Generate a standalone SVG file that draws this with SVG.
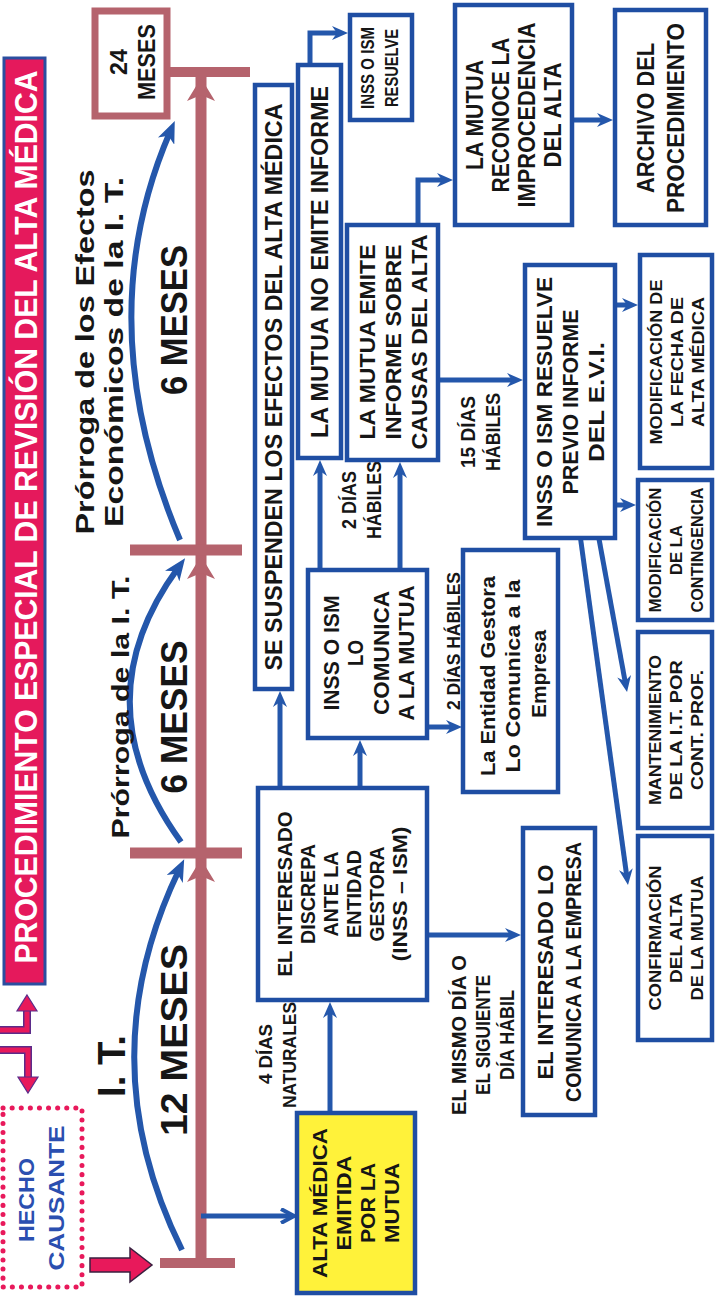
<svg xmlns="http://www.w3.org/2000/svg" width="720" height="1303" viewBox="0 0 720 1303">
<style>
.t{font-family:"Liberation Sans Narrow","Liberation Sans",Arial,sans-serif;font-weight:bold;fill:#161616;text-anchor:middle}
.bx{fill:#fff;stroke:#1f4ea3;stroke-width:4.5}
.cn{fill:none;stroke:#2457ab;stroke-width:5}
.rose{fill:none;stroke:#b5636d}
.arc{fill:none;stroke:#2457ab;stroke-width:6}
</style>
<defs>
<marker id="ab" viewBox="0 0 16 14" refX="8" refY="7" markerWidth="16" markerHeight="14" markerUnits="userSpaceOnUse" orient="auto"><path d="M0,0 L16,7 L0,14 L5,7 z" fill="#2457ab"/></marker>
<marker id="ao" viewBox="0 0 16 16" refX="13" refY="8" markerWidth="16" markerHeight="16" markerUnits="userSpaceOnUse" orient="auto"><path d="M1,1 L14,8 L1,15" fill="none" stroke="#2457ab" stroke-width="4"/></marker>
<marker id="aw" viewBox="0 0 22 18" refX="10" refY="9" markerWidth="22" markerHeight="18" markerUnits="userSpaceOnUse" orient="auto"><path d="M0,0 L22,9 L0,18 L6,9 z" fill="#2457ab"/></marker>
</defs>
<rect width="720" height="1303" fill="#fff"/>

<g id="title">
<rect x="4" y="58" width="41" height="926" fill="#e5195c" stroke="#2b4ea0" stroke-width="3"/>
<text class="t" style="fill:#fff" font-size="32" transform="translate(37,517) rotate(-90)" textLength="893" lengthAdjust="spacingAndGlyphs">PROCEDIMIENTO ESPECIAL DE REVISIÓN DEL ALTA MÉDICA</text>
</g>

<g id="pink-arrows">
<path d="M0,1030 H27 V1010" fill="none" stroke="#5b2b8a" stroke-width="8"/>
<path d="M0,1030 H27 V1010" fill="none" stroke="#e8195b" stroke-width="5"/>
<polygon points="27,995 37,1011 17,1011" fill="#e8195b" stroke="#5b2b8a" stroke-width="1.2"/>
<path d="M0,1050 H28 V1078" fill="none" stroke="#5b2b8a" stroke-width="8"/>
<path d="M0,1050 H28 V1078" fill="none" stroke="#e8195b" stroke-width="5"/>
<polygon points="28,1093 38,1077 18,1077" fill="#e8195b" stroke="#5b2b8a" stroke-width="1.2"/>
<polygon points="90,1258 130,1258 130,1248 152,1265 130,1282 130,1272 90,1272" fill="#e8195b" stroke="#3a2040" stroke-width="1.5"/>
</g>

<g id="n-hecho">
<rect x="3" y="1108" width="79" height="179" fill="none" stroke="#e8195b" stroke-width="5" stroke-dasharray="0.1 9" stroke-linecap="round"/>
<text class="t" style="fill:#2b4fb0" font-size="22" transform="translate(34,1200) rotate(-90)" textLength="84" lengthAdjust="spacingAndGlyphs">HECHO</text>
<text class="t" style="fill:#2b4fb0" font-size="22" transform="translate(64,1198) rotate(-90)" textLength="145" lengthAdjust="spacingAndGlyphs">CAUSANTE</text>
</g>

<g id="timeline">
<line x1="201" y1="77" x2="201" y2="1263" class="rose" stroke-width="11"/>
<line x1="167" y1="72" x2="250" y2="72" class="rose" stroke-width="10"/>
<line x1="130" y1="550" x2="242" y2="550" class="rose" stroke-width="11"/>
<line x1="130" y1="853" x2="242" y2="853" class="rose" stroke-width="11"/>
<line x1="160" y1="1263" x2="235" y2="1263" class="rose" stroke-width="10"/>
<polygon points="201,78 215,101 201,95 187,101" fill="#b5636d"/>
<polygon points="201,556 215,579 201,573 187,579" fill="#b5636d"/>
<polygon points="201,859 215,882 201,876 187,882" fill="#b5636d"/>
<path class="arc" d="M182,1250 Q88,1060 179,870" marker-end="url(#aw)"/>
<path class="arc" d="M181,842 Q80,702 178,568" marker-end="url(#aw)"/>
<path class="arc" d="M180,540 Q88,322 170,132" marker-end="url(#aw)"/>
<text class="t" font-size="38" transform="translate(125,1066) rotate(-90)" textLength="62" lengthAdjust="spacingAndGlyphs">I. T.</text>
<text class="t" font-size="37" transform="translate(187,1040) rotate(-90)" textLength="192" lengthAdjust="spacingAndGlyphs">12 MESES</text>
<text class="t" font-size="24" transform="translate(129,707) rotate(-90)" textLength="263" lengthAdjust="spacingAndGlyphs">Prórroga de la I. T.</text>
<text class="t" font-size="37" transform="translate(187,717) rotate(-90)" textLength="153" lengthAdjust="spacingAndGlyphs">6 MESES</text>
<text class="t" font-size="25" transform="translate(94,352) rotate(-90)" textLength="365" lengthAdjust="spacingAndGlyphs">Prórroga de los Efectos</text>
<text class="t" font-size="25" transform="translate(123,352) rotate(-90)" textLength="350" lengthAdjust="spacingAndGlyphs">Económicos de la I. T.</text>
<text class="t" font-size="37" transform="translate(187,320) rotate(-90)" textLength="150" lengthAdjust="spacingAndGlyphs">6 MESES</text>
</g>

<g id="n-24meses">
<rect x="95" y="11" width="72" height="105" fill="#fff" stroke="#b5636d" stroke-width="7"/>
<text class="t" font-size="23" transform="translate(127,62) rotate(-90)" textLength="26" lengthAdjust="spacingAndGlyphs">24</text>
<text class="t" font-size="23" transform="translate(155,62) rotate(-90)" textLength="76" lengthAdjust="spacingAndGlyphs">MESES</text>
</g>

<g id="connectors">
<path class="cn" d="M201,1216 H293" marker-end="url(#ao)"/>
<path class="cn" d="M330,1113 V1010" marker-end="url(#ab)"/>
<path class="cn" d="M280,788 V699" marker-end="url(#ab)"/>
<path class="cn" d="M360,788 V748" marker-end="url(#ab)"/>
<path class="cn" d="M320,570 V468" marker-end="url(#ab)"/>
<path class="cn" d="M400,570 V470" marker-end="url(#ab)"/>
<path class="cn" d="M425,727 H454" marker-end="url(#ab)"/>
<path class="cn" d="M310,65 V33 H340" marker-end="url(#ab)"/>
<path class="cn" d="M418,225 V180 H445" marker-end="url(#ab)"/>
<path class="cn" d="M572,120 H605" marker-end="url(#ab)"/>
<path class="cn" d="M438,380 H515" marker-end="url(#ab)"/>
<path class="cn" d="M598,305 H630" marker-end="url(#ab)"/>
<path class="cn" d="M598,505 H628" marker-end="url(#ab)"/>
<path class="cn" d="M597,528 L625.6,684.1" marker-end="url(#ab)"/>
<path class="cn" d="M578,520 L626.9,877.1" marker-end="url(#ab)"/>
<path class="cn" d="M427,935 H513" marker-end="url(#ab)"/>
<text class="t" font-size="19" transform="translate(272,1054) rotate(-90)" textLength="60" lengthAdjust="spacingAndGlyphs">4 DÍAS</text>
<text class="t" font-size="19" transform="translate(296,1055) rotate(-90)" textLength="106" lengthAdjust="spacingAndGlyphs">NATURALES</text>
<text class="t" font-size="20" transform="translate(356,500) rotate(-90)" textLength="58" lengthAdjust="spacingAndGlyphs">2 DÍAS</text>
<text class="t" font-size="20" transform="translate(381,500) rotate(-90)" textLength="78" lengthAdjust="spacingAndGlyphs">HÁBILES</text>
<text class="t" font-size="18" transform="translate(460,641) rotate(-90)" textLength="138" lengthAdjust="spacingAndGlyphs">2 DÍAS HÁBILES</text>
<text class="t" font-size="20" transform="translate(475,432) rotate(-90)" textLength="72" lengthAdjust="spacingAndGlyphs">15 DÍAS</text>
<text class="t" font-size="20" transform="translate(500,432) rotate(-90)" textLength="78" lengthAdjust="spacingAndGlyphs">HÁBILES</text>
<text class="t" font-size="20" transform="translate(466,1035) rotate(-90)" textLength="160" lengthAdjust="spacingAndGlyphs">EL MISMO DÍA O</text>
<text class="t" font-size="20" transform="translate(490,1035) rotate(-90)" textLength="120" lengthAdjust="spacingAndGlyphs">EL SIGUIENTE</text>
<text class="t" font-size="20" transform="translate(514,1035) rotate(-90)" textLength="90" lengthAdjust="spacingAndGlyphs">DÍA HÁBIL</text>
</g>

<g id="n-suspenden">
<rect class="bx" x="255" y="85" width="37" height="604"/>
<text class="t" font-size="24" transform="translate(282,387) rotate(-90)" textLength="567" lengthAdjust="spacingAndGlyphs">SE SUSPENDEN LOS EFECTOS DEL ALTA MÉDICA</text>
</g>

<g id="n-noemite">
<rect class="bx" x="298" y="65" width="43" height="393"/>
<text class="t" font-size="24" transform="translate(328,262) rotate(-90)" textLength="352" lengthAdjust="spacingAndGlyphs">LA MUTUA NO EMITE INFORME</text>
</g>

<g id="n-resuelve">
<rect class="bx" x="350" y="15" width="62" height="105"/>
<text class="t" font-size="18" transform="translate(374,68) rotate(-90)" textLength="82" lengthAdjust="spacingAndGlyphs">INSS O ISM</text>
<text class="t" font-size="18" transform="translate(398,68) rotate(-90)" textLength="78" lengthAdjust="spacingAndGlyphs">RESUELVE</text>
</g>

<g id="n-emite">
<rect class="bx" x="347" y="225" width="91" height="235"/>
<text class="t" font-size="22" transform="translate(375,342) rotate(-90)" textLength="195" lengthAdjust="spacingAndGlyphs">LA MUTUA EMITE</text>
<text class="t" font-size="22" transform="translate(401,342) rotate(-90)" textLength="195" lengthAdjust="spacingAndGlyphs">INFORME SOBRE</text>
<text class="t" font-size="22" transform="translate(427,342) rotate(-90)" textLength="215" lengthAdjust="spacingAndGlyphs">CAUSAS DEL ALTA</text>
</g>

<g id="n-reconoce">
<rect class="bx" x="455" y="5" width="117" height="220"/>
<text class="t" font-size="23" transform="translate(483,115) rotate(-90)" textLength="110" lengthAdjust="spacingAndGlyphs">LA MUTUA</text>
<text class="t" font-size="23" transform="translate(509,115) rotate(-90)" textLength="155" lengthAdjust="spacingAndGlyphs">RECONOCE LA</text>
<text class="t" font-size="23" transform="translate(535,115) rotate(-90)" textLength="185" lengthAdjust="spacingAndGlyphs">IMPROCEDENCIA</text>
<text class="t" font-size="23" transform="translate(561,115) rotate(-90)" textLength="105" lengthAdjust="spacingAndGlyphs">DEL ALTA</text>
</g>

<g id="n-archivo">
<rect class="bx" x="615" y="10" width="91" height="215"/>
<text class="t" font-size="24" transform="translate(654,118) rotate(-90)" textLength="150" lengthAdjust="spacingAndGlyphs">ARCHIVO DEL</text>
<text class="t" font-size="24" transform="translate(684,118) rotate(-90)" textLength="190" lengthAdjust="spacingAndGlyphs">PROCEDIMIENTO</text>
</g>

<g id="n-previo">
<rect class="bx" x="525" y="265" width="90" height="273"/>
<text class="t" font-size="22" transform="translate(552,402) rotate(-90)" textLength="250" lengthAdjust="spacingAndGlyphs">INSS O ISM RESUELVE</text>
<text class="t" font-size="22" transform="translate(578,402) rotate(-90)" textLength="185" lengthAdjust="spacingAndGlyphs">PREVIO INFORME</text>
<text class="t" font-size="22" transform="translate(604,402) rotate(-90)" textLength="120" lengthAdjust="spacingAndGlyphs">DEL E.V.I.</text>
</g>

<g id="n-modfecha">
<rect class="bx" x="640" y="255" width="72" height="213"/>
<text class="t" font-size="16" transform="translate(662,362) rotate(-90)" textLength="165" lengthAdjust="spacingAndGlyphs">MODIFICACIÓN DE</text>
<text class="t" font-size="16" transform="translate(683,362) rotate(-90)" textLength="130" lengthAdjust="spacingAndGlyphs">LA FECHA DE</text>
<text class="t" font-size="16" transform="translate(704,362) rotate(-90)" textLength="130" lengthAdjust="spacingAndGlyphs">ALTA MÉDICA</text>
</g>

<g id="n-modcont">
<rect class="bx" x="638" y="480" width="74" height="140"/>
<text class="t" font-size="16" transform="translate(661,550) rotate(-90)" textLength="125" lengthAdjust="spacingAndGlyphs">MODIFICACIÓN</text>
<text class="t" font-size="16" transform="translate(682,550) rotate(-90)" textLength="50" lengthAdjust="spacingAndGlyphs">DE LA</text>
<text class="t" font-size="16" transform="translate(703,550) rotate(-90)" textLength="125" lengthAdjust="spacingAndGlyphs">CONTINGENCIA</text>
</g>

<g id="n-mant">
<rect class="bx" x="638" y="632" width="74" height="196"/>
<text class="t" font-size="16" transform="translate(661,730) rotate(-90)" textLength="150" lengthAdjust="spacingAndGlyphs">MANTENIMIENTO</text>
<text class="t" font-size="16" transform="translate(682,730) rotate(-90)" textLength="140" lengthAdjust="spacingAndGlyphs">DE LA I.T. POR</text>
<text class="t" font-size="16" transform="translate(703,730) rotate(-90)" textLength="120" lengthAdjust="spacingAndGlyphs">CONT. PROF.</text>
</g>

<g id="n-confirm">
<rect class="bx" x="638" y="836" width="74" height="204"/>
<text class="t" font-size="16" transform="translate(661,938) rotate(-90)" textLength="145" lengthAdjust="spacingAndGlyphs">CONFIRMACIÓN</text>
<text class="t" font-size="16" transform="translate(682,938) rotate(-90)" textLength="90" lengthAdjust="spacingAndGlyphs">DEL ALTA</text>
<text class="t" font-size="16" transform="translate(703,938) rotate(-90)" textLength="125" lengthAdjust="spacingAndGlyphs">DE LA MUTUA</text>
</g>

<g id="n-comunica">
<rect class="bx" x="308" y="570" width="119" height="168"/>
<text class="t" font-size="22" transform="translate(339,653) rotate(-90)" textLength="115" lengthAdjust="spacingAndGlyphs">INSS O ISM</text>
<text class="t" font-size="22" transform="translate(363,653) rotate(-90)" textLength="26" lengthAdjust="spacingAndGlyphs">LO</text>
<text class="t" font-size="22" transform="translate(389,653) rotate(-90)" textLength="124" lengthAdjust="spacingAndGlyphs">COMUNICA</text>
<text class="t" font-size="22" transform="translate(414,653) rotate(-90)" textLength="135" lengthAdjust="spacingAndGlyphs">A LA MUTUA</text>
</g>

<g id="n-entidad">
<rect class="bx" x="463" y="550" width="95" height="242"/>
<text class="t" font-size="21" transform="translate(495,676) rotate(-90)" textLength="200" lengthAdjust="spacingAndGlyphs">La Entidad Gestora</text>
<text class="t" font-size="21" transform="translate(520,676) rotate(-90)" textLength="193" lengthAdjust="spacingAndGlyphs">Lo Comunica a la</text>
<text class="t" font-size="21" transform="translate(546,674) rotate(-90)" textLength="88" lengthAdjust="spacingAndGlyphs">Empresa</text>
</g>

<g id="n-intcomunica">
<rect class="bx" x="523" y="828" width="72" height="287"/>
<text class="t" font-size="22" transform="translate(553,972) rotate(-90)" textLength="215" lengthAdjust="spacingAndGlyphs">EL INTERESADO LO</text>
<text class="t" font-size="22" transform="translate(581,972) rotate(-90)" textLength="260" lengthAdjust="spacingAndGlyphs">COMUNICA A LA EMPRESA</text>
</g>

<g id="n-discrepa">
<rect class="bx" x="258" y="788" width="169" height="212"/>
<text class="t" font-size="20" transform="translate(292,894) rotate(-90)" textLength="165" lengthAdjust="spacingAndGlyphs">EL INTERESADO</text>
<text class="t" font-size="20" transform="translate(315,894) rotate(-90)" textLength="100" lengthAdjust="spacingAndGlyphs">DISCREPA</text>
<text class="t" font-size="20" transform="translate(338,894) rotate(-90)" textLength="85" lengthAdjust="spacingAndGlyphs">ANTE LA</text>
<text class="t" font-size="20" transform="translate(361,894) rotate(-90)" textLength="88" lengthAdjust="spacingAndGlyphs">ENTIDAD</text>
<text class="t" font-size="20" transform="translate(384,894) rotate(-90)" textLength="95" lengthAdjust="spacingAndGlyphs">GESTORA</text>
<text class="t" font-size="20" transform="translate(407,894) rotate(-90)" textLength="135" lengthAdjust="spacingAndGlyphs">(INSS – ISM)</text>
</g>

<g id="n-alta">
<rect x="297" y="1113" width="118" height="180" fill="#fff23a" stroke="#1f4ea3" stroke-width="4.5"/>
<text class="t" font-size="21" transform="translate(327,1203) rotate(-90)" textLength="150" lengthAdjust="spacingAndGlyphs">ALTA MÉDICA</text>
<text class="t" font-size="21" transform="translate(351,1203) rotate(-90)" textLength="95" lengthAdjust="spacingAndGlyphs">EMITIDA</text>
<text class="t" font-size="21" transform="translate(375,1203) rotate(-90)" textLength="80" lengthAdjust="spacingAndGlyphs">POR LA</text>
<text class="t" font-size="21" transform="translate(399,1203) rotate(-90)" textLength="80" lengthAdjust="spacingAndGlyphs">MUTUA</text>
</g>
</svg>
